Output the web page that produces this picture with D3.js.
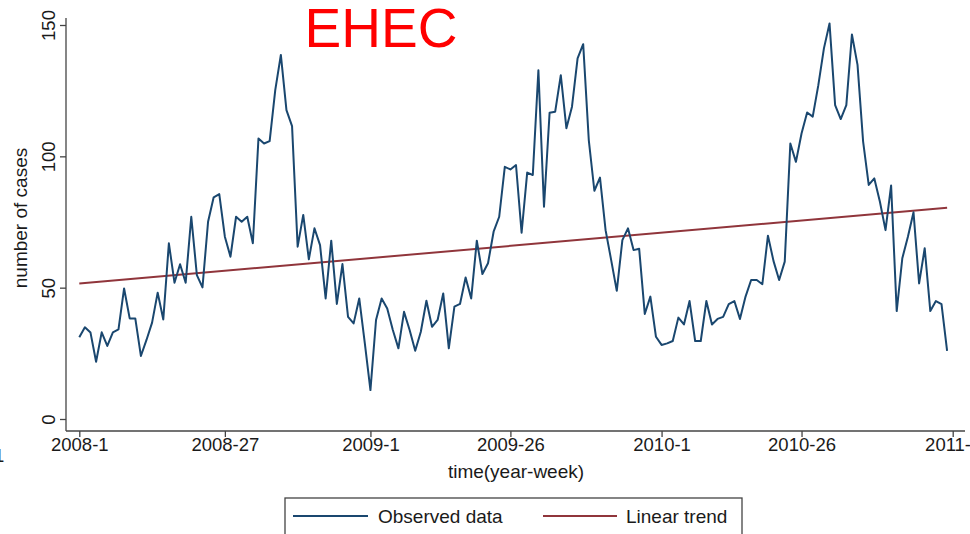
<!DOCTYPE html>
<html>
<head>
<meta charset="utf-8">
<script src="https://cdn.jsdelivr.net/npm/d3@7"></script>
<style>
  html, body { margin: 0; padding: 0; background: #fff; }
  svg { display: block; font-family: "Liberation Sans", Arial, sans-serif; }
</style>
</head>
<body>
<svg id="chart" width="970" height="534"></svg>
<script>
// ---- data ----
const chartTitle = "EHEC";
const weekTickIdx = [0, 26, 52, 77, 104, 129, 156];
const weekTickLabels = ["2008-1", "2008-27", "2009-1", "2009-26", "2010-1", "2010-26", "2011-1"];
const yTicks = [0, 50, 100, 150];
const observed = [
  31.1, 34.9, 32.9, 21.8, 33.0, 27.8, 33.0, 34.1, 49.7, 38.3, 38.3, 24.0, 30.1, 36.7, 48.1, 37.9,
  66.9, 51.9, 58.9, 51.9, 77.0, 54.8, 50.1, 75.1, 84.4, 85.6,
  69.4, 61.8, 77.0, 75.1, 77.0, 66.9, 106.8, 104.9, 105.8, 125.2, 138.6, 117.6, 111.5, 65.6, 77.7,
  60.8, 72.6, 66.2, 45.9, 67.9, 43.8, 59.0, 38.9, 36.4, 45.9, 28.8,
  11.0, 37.7, 45.9, 42.1, 33.9, 26.9, 40.8, 33.9, 26.0, 33.2, 45.0, 35.1, 37.7, 47.8, 26.9, 42.8,
  43.8, 53.9, 45.9, 67.9, 55.2, 59.3, 71.3, 77.0, 96.0, 95.0, 96.7,
  70.9, 93.8, 92.9, 132.8, 80.8, 116.6, 117.0, 130.9, 110.7, 118.9, 137.3, 142.7, 106.2, 86.9, 91.9,
  71.9, 60.5, 48.8, 68.1, 72.6, 64.3, 64.8, 40.0, 46.6, 31.3, 28.2,
  28.8, 29.7, 38.6, 36.0, 44.9, 29.7, 29.7, 44.9, 36.0, 38.1, 38.9, 43.7, 44.9, 38.1, 46.6, 52.9,
  52.9, 51.3, 69.8, 60.1, 52.9, 59.9, 104.9, 97.9, 108.7,
  116.7, 115.1, 127.1, 141.1, 150.6, 119.5, 114.2, 119.5, 146.4, 134.8, 105.6, 89.1, 91.6, 82.7,
  71.9, 88.9, 41.1, 61.2, 69.4, 78.7, 51.6, 65.0, 41.1, 44.9, 43.7, 25.9
];
const trendIdx = [0, 155];
const trendVals = [51.6, 80.4];
const legendLabels = ["Observed data", "Linear trend"];

// ---- drawing ----
const svg = d3.select("#chart");
const colObs = "#1a476f", colTrend = "#90353b", axisCol = "#444", textCol = "#1a1a1a";

const x = d3.scaleLinear().domain([0, 156]).range([79.3, 952.7]);
const y = d3.scaleLinear().domain([0, 150]).range([419, 25]);

const axisX = 66, axisY = 431;

// axis lines
svg.append("line").attr("x1", axisX).attr("x2", axisX).attr("y1", 18).attr("y2", axisY)
  .attr("stroke", axisCol).attr("stroke-width", 1.3);
svg.append("line").attr("x1", axisX).attr("x2", 965).attr("y1", axisY).attr("y2", axisY)
  .attr("stroke", axisCol).attr("stroke-width", 1.3);

// x axis
const gx = svg.append("g").attr("transform", `translate(0,${axisY})`)
  .call(d3.axisBottom(x).tickValues(weekTickIdx).tickFormat((d, i) => weekTickLabels[i])
    .tickSize(6).tickPadding(0));
gx.select(".domain").remove();
gx.selectAll(".tick line").attr("stroke", axisCol).attr("stroke-width", 1.3);
gx.selectAll(".tick text").attr("fill", textCol).attr("font-size", "18.5px")
  .attr("font-family", "'Liberation Sans', Arial, sans-serif").attr("dy", 14);

// y axis
const gy = svg.append("g").attr("transform", `translate(${axisX},0)`)
  .call(d3.axisLeft(y).tickValues(yTicks).tickSize(6));
gy.select(".domain").remove();
gy.selectAll(".tick line").attr("stroke", axisCol).attr("stroke-width", 1.3);
gy.selectAll(".tick text")
  .attr("x", null).attr("dy", null)
  .attr("transform", "translate(-11,0) rotate(-90)")
  .attr("text-anchor", "middle")
  .attr("fill", textCol).attr("font-size", "18.5px")
  .attr("font-family", "'Liberation Sans', Arial, sans-serif");

// axis titles
svg.append("text").attr("transform", "translate(27,218) rotate(-90)")
  .attr("text-anchor", "middle").attr("font-size", "19px").attr("fill", textCol)
  .text("number of cases");
svg.append("text").attr("x", 516).attr("y", 478)
  .attr("text-anchor", "middle").attr("font-size", "19px").attr("fill", textCol)
  .text("time(year-week)");

// stray clipped label at left edge
svg.append("text").attr("x", -6).attr("y", 462).attr("font-size", "18.5px").attr("fill", textCol).text("1");

// trend line
const line = d3.line().x(d => x(d[0])).y(d => y(d[1]));
svg.append("path").datum(trendIdx.map((t, i) => [t, trendVals[i]]))
  .attr("d", line).attr("fill", "none").attr("stroke", colTrend).attr("stroke-width", 2);

// observed
svg.append("path").datum(observed.map((v, i) => [i, v]))
  .attr("d", line).attr("fill", "none").attr("stroke", colObs).attr("stroke-width", 2)
  .attr("stroke-linejoin", "round");

// title
svg.append("text").attr("x", 381).attr("y", 47).attr("text-anchor", "middle")
  .attr("font-size", "55px").attr("fill", "#ff0000").text(chartTitle);

// legend
svg.append("rect").attr("x", 285).attr("y", 498).attr("width", 457).attr("height", 48)
  .attr("fill", "#fff").attr("stroke", axisCol).attr("stroke-width", 1.3);
const legItems = [
  { col: colObs, x1: 293, x2: 368, tx: 378, label: legendLabels[0] },
  { col: colTrend, x1: 543, x2: 617, tx: 626, label: legendLabels[1] }
];
legItems.forEach(it => {
  svg.append("line").attr("x1", it.x1).attr("x2", it.x2).attr("y1", 516).attr("y2", 516)
    .attr("stroke", it.col).attr("stroke-width", 2);
  svg.append("text").attr("x", it.tx).attr("y", 523).attr("font-size", "19px").attr("fill", textCol)
    .text(it.label);
});
</script>
</body>
</html>
